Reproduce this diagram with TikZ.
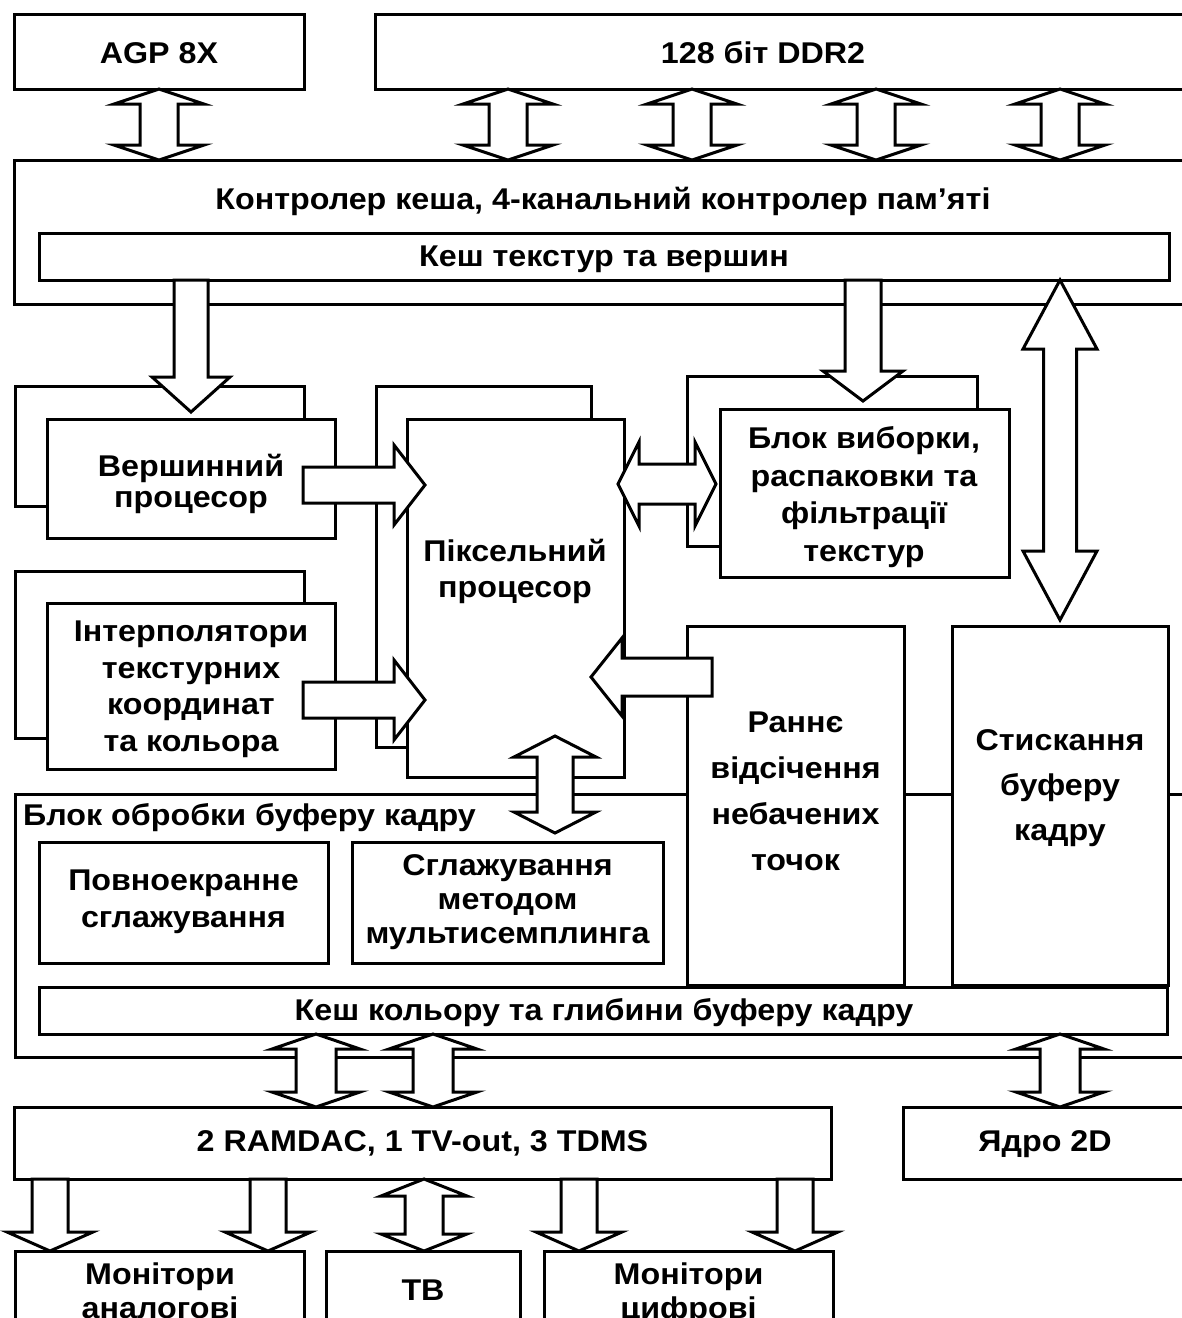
\documentclass[tikz,border=0pt]{standalone}
\usepackage{fontspec}
\setmainfont{Liberation Sans}[FakeStretch=1.075]
\usetikzlibrary{calc}
\tikzset{
  box/.style={draw, line width=3pt, fill=white, inner sep=0pt, outer sep=0pt},
  txt/.style={font=\bfseries\fontsize{30}{#1}\selectfont, align=center, inner sep=0pt},
  txt/.default=36,
  blockarrow/.style={draw, line width=3pt, fill=white, line join=miter},
}
% \bx{name}{x1}{y1}{x2}{y2}{text}
\newcommand\bx[6]{%
  \node[box, txt, minimum width={(#4-#2)*1pt}, minimum height={(#5-#3)*1pt}]
    (#1) at ({(#2+#4)/2},{(#3+#5)/2}) {#6};}
% \blockarrow{from}{to}{shaft half-width}{head half-width}{head length}{1 = single, 2 = double}
\newcommand\blockarrow[6]{%
  \coordinate (BAa) at #1;
  \coordinate (BAb) at #2;
  \pgfpointdiff{\pgfpointanchor{BAa}{center}}{\pgfpointanchor{BAb}{center}}%
  \pgfgetlastxy{\BAdx}{\BAdy}%
  \pgfmathsetmacro\BAlen{veclen(\BAdx,\BAdy)}%
  \pgfmathsetmacro\BAang{atan2(\BAdy,\BAdx)}%
  \ifnum#6=2
    \draw[blockarrow, shift={(BAa)}, rotate=\BAang]
      (0,0) -- (#5,#4) -- (#5,#3) -- (\BAlen-#5,#3) -- (\BAlen-#5,#4) -- (\BAlen,0)
      -- (\BAlen-#5,-#4) -- (\BAlen-#5,-#3) -- (#5,-#3) -- (#5,-#4) -- cycle;
  \else
    \draw[blockarrow, shift={(BAa)}, rotate=\BAang]
      (0,#3) -- (\BAlen-#5,#3) -- (\BAlen-#5,#4) -- (\BAlen,0)
      -- (\BAlen-#5,-#4) -- (\BAlen-#5,-#3) -- (0,-#3) -- cycle;
  \fi}

\begin{document}
\begin{tikzpicture}[x=1pt, y=-1pt]
\useasboundingbox (0,0) rectangle (1182,1318);
\clip (0,0) rectangle (1182,1318);

% ---- top row
\bx{agp}{14}{14}{304}{89}{}
\node[txt] (agptext) at (159,53) {AGP 8X};
\bx{ddr}{375}{14}{1200}{89}{}
\node[txt] (ddrtext) at (763,52.5) {128 біт DDR2};

% ---- memory controller
\bx{ctrl}{14}{160}{1200}{304}{}
\node[txt] (ctrltext) at (603,201) {Контролер кеша, 4-канальний контролер пам’яті};
\bx{tcache}{39}{233}{1169}{280}{}
\node[txt] (tcachetext) at (604,259) {Кеш текстур та вершин};

% ---- vertex processor
\bx{vback}{15}{386}{304}{506}{}
\bx{vfront}{47}{419}{335}{538}{}
\node[txt=31] (vtext) at (191,484) {Вершинний\\процесор};

% ---- interpolators
\bx{iback}{15}{571}{304}{738}{}
\bx{ifront}{47}{603}{335}{769}{}
\node[txt=36.5] (itext) at (191,689.5) {Інтерполятори\\текстурних\\координат\\та кольора};

% ---- pixel processor
\bx{pback}{376}{386}{591}{747}{}
\bx{pfront}{407}{419}{624}{777}{}
\node[txt=36] (ptext) at (515,571.5) {Піксельний\\процесор};

% ---- texture unit
\bx{txback}{687}{376}{977}{546}{}
\bx{txfront}{720}{409}{1009}{577}{}
\node[txt=37.5] (txtext) at (864,497) {Блок виборки,\\распаковки та\\фільтрації\\текстур};

% ---- frame buffer block
\bx{fb}{15}{794}{1200}{1057}{}
\node[txt, anchor=west] (fbtext) at (23,818) {Блок обробки буферу кадру};
\bx{early}{687}{626}{904}{985}{}
\node[txt=46] (earlytext) at (795.5,791.5) {Раннє\\відсічення\\небачених\\точок};
\bx{comp}{952}{626}{1168}{985}{}
\node[txt=45] (comptext) at (1060,788) {Стискання\\буферу\\кадру};
\bx{fsaa}{39}{842}{328}{963}{}
\node[txt=37] (fsaatext) at (183.5,902) {Повноекранне\\сглажування};
\bx{msaa}{352}{842}{663}{963}{}
\node[txt=34] (msaatext) at (507.5,902.5) {Сглажування\\методом\\мультисемплинга};
\bx{ccache}{39}{987}{1167}{1034}{}
\node[txt] (ccachetext) at (604,1013) {Кеш кольору та глибини буферу кадру};

% ---- output
\bx{ramdac}{14}{1107}{831}{1179}{}
\node[txt] (ramdactext) at (422.5,1143.5) {2 RAMDAC, 1 TV-out, 3 TDMS};
\bx{core}{903}{1107}{1200}{1179}{}
\node[txt] (coretext) at (1045,1144) {Ядро 2D};
\bx{mona}{15}{1251}{304}{1400}{}
\node[txt=34] (monatext) at (160,1291) {Монітори\\аналогові};
\bx{tv}{326}{1251}{520}{1400}{}
\node[txt] (tvtext) at (423,1290) {ТВ};
\bx{mond}{544}{1251}{833}{1400}{}
\node[txt=34] (mondtext) at (688.5,1294) {Монітори\\цифрові};

% ---- x positions and free ends of connectors
\coordinate (xa) at (508,0);
\coordinate (xb) at (692,0);
\coordinate (xc) at (876,0);
\coordinate (xd) at (1060,0);
\coordinate (xv) at (191,0);
\coordinate (xt) at (863,0);
\coordinate (xr1) at (316,0);
\coordinate (xr2) at (433,0);
\coordinate (xm1) at (50,0);
\coordinate (xm2) at (268,0);
\coordinate (xm3) at (579,0);
\coordinate (xm4) at (795,0);
\coordinate (xtv) at (424,0);
\coordinate (vtip) at (191,412);
\coordinate (ttip) at (863,401);
\coordinate (ctip) at (1060,620);
\coordinate (v0) at (303,485);
\coordinate (v1) at (425,485);
\coordinate (i0) at (303,700);
\coordinate (i1) at (425,700);
\coordinate (pt0) at (618,484);
\coordinate (pt1) at (716,484);
\coordinate (e0) at (712,677);
\coordinate (e1) at (591,677);
\coordinate (f0) at (555,833);
\coordinate (f1) at (555,736);

% ---- connectors
\blockarrow{(agp.south)}{(agp.south |- ctrl.north)}{19}{45}{15}{2}
\blockarrow{(ddr.south -| xa)}{(ctrl.north -| xa)}{19}{45}{15}{2}
\blockarrow{(ddr.south -| xb)}{(ctrl.north -| xb)}{19}{45}{15}{2}
\blockarrow{(ddr.south -| xc)}{(ctrl.north -| xc)}{19}{45}{15}{2}
\blockarrow{(ddr.south -| xd)}{(ctrl.north -| xd)}{19}{45}{15}{2}

\blockarrow{(tcache.south -| xv)}{(vtip)}{17}{39}{35}{1}
\blockarrow{(tcache.south -| xt)}{(ttip)}{18}{40}{30}{1}
\blockarrow{(tcache.south -| xd)}{(ctip)}{16.5}{37}{69}{2}

\blockarrow{(v0)}{(v1)}{18}{40}{31}{1}
\blockarrow{(i0)}{(i1)}{18}{40}{31}{1}
\blockarrow{(pt0)}{(pt1)}{20}{42}{21}{2}
\blockarrow{(e0)}{(e1)}{19}{39}{31}{1}
\blockarrow{(f0)}{(f1)}{18}{41}{21}{2}

\blockarrow{(ccache.south -| xr1)}{(ramdac.north -| xr1)}{20}{44}{15}{2}
\blockarrow{(ccache.south -| xr2)}{(ramdac.north -| xr2)}{20}{44}{15}{2}
\blockarrow{(ccache.south -| xd)}{(core.north -| xd)}{20}{44}{15}{2}

\blockarrow{(ramdac.south -| xm1)}{(mona.north -| xm1)}{18}{43}{19}{1}
\blockarrow{(ramdac.south -| xm2)}{(mona.north -| xm2)}{18}{43}{19}{1}
\blockarrow{(ramdac.south -| xtv)}{(tv.north -| xtv)}{19}{43}{17}{2}
\blockarrow{(ramdac.south -| xm3)}{(mond.north -| xm3)}{18}{43}{19}{1}
\blockarrow{(ramdac.south -| xm4)}{(mond.north -| xm4)}{18}{43}{19}{1}
\end{tikzpicture}
\end{document}
